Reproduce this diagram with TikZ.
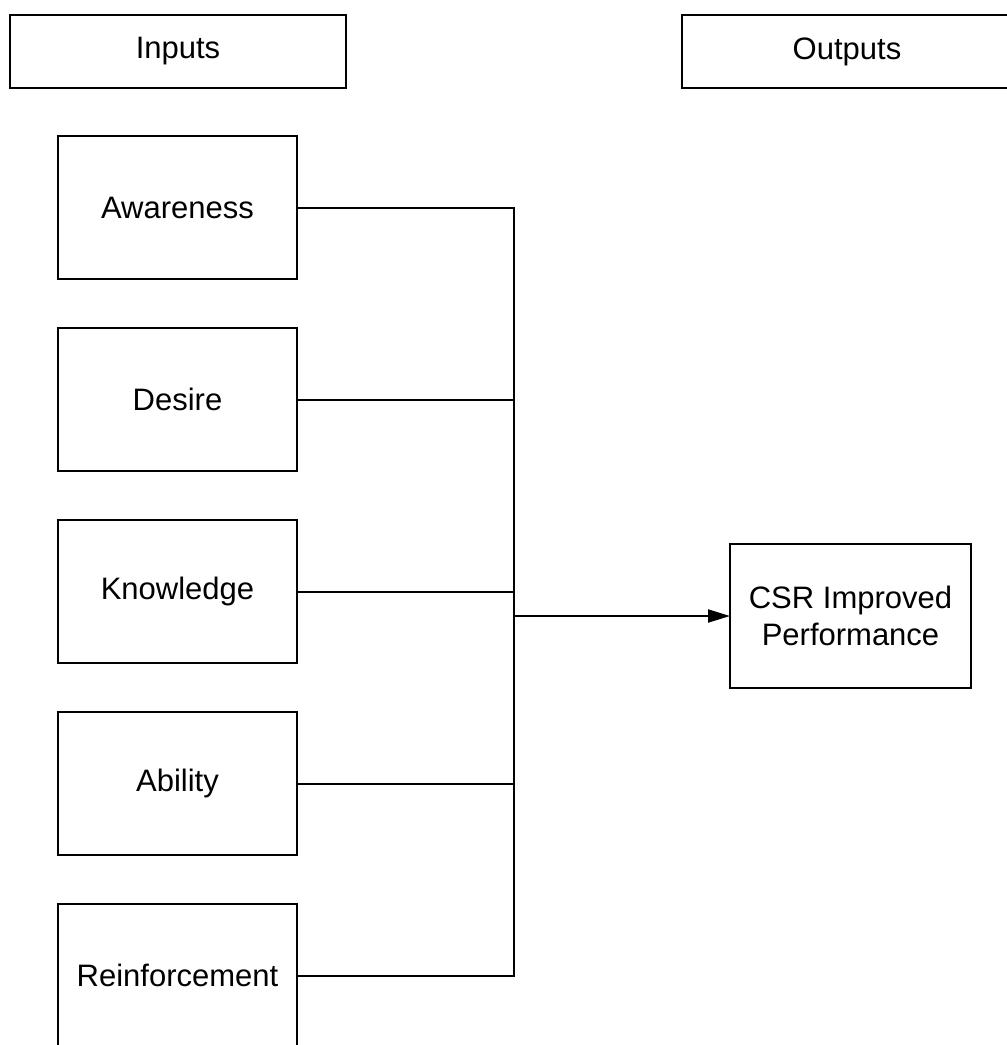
\documentclass[tikz,border=0pt]{standalone}
\usepackage{fontspec}
\setmainfont{Liberation Sans}
\usetikzlibrary{arrows.meta}

\tikzset{
  box/.style={draw, line width=2pt, inner sep=0pt, outer sep=0pt,
    align=center, font=\fontsize{31}{37}\selectfont},
  inbox/.style={box, minimum width=239pt, minimum height=143pt},
  link/.style={line width=2pt},
}

\begin{document}
\begin{tikzpicture}[x=1pt, y=-1pt]
    % page frame, same size as the reference
    \clip (0,0) rectangle (1007,1045);
    \fill[white] (0,0) rectangle (1007,1045);

    % column headers
    \node[box, minimum width=336pt, minimum height=73pt] (inputs) at (178,51.5) {Inputs};
    \node[box, minimum width=330pt, minimum height=73pt] (outputs) at (847,51.5) {Outputs};

    % the five input boxes, one every 192pt
    \foreach \name/\txt/\y in {aware/Awareness/207.5, desire/Desire/399.5,
        know/Knowledge/591.5, ability/Ability/783.5, reinf/Reinforcement/975.5}
      \node[inbox] (\name) at (177.5,\y) {\txt};

    % output box
    \node[box, minimum width=241pt, minimum height=144pt] (csr) at (850.5,616)
      {CSR Improved\\Performance};

    % the bus that gathers the inputs
    \coordinate (bus) at (514,616);
    \foreach \name in {aware, desire, know, ability, reinf}
      \draw[link] (\name.east) -- (\name.east -| bus);
    \draw[link, line cap=rect] (bus |- aware.east) -- (bus |- reinf.east);

    % arrow to the output
    \draw[link, -{Triangle[length=22pt, width=13pt]}] (bus) -- (csr.west);
\end{tikzpicture}
\end{document}
